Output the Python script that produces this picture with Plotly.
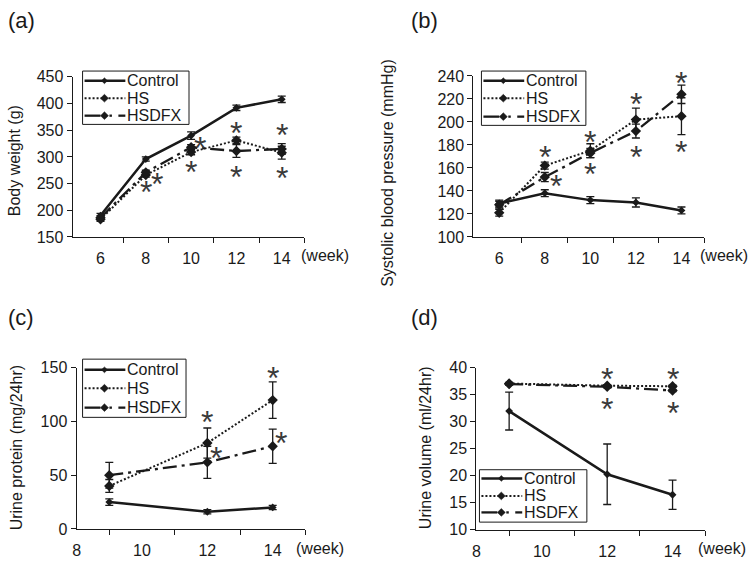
import plotly.graph_objects as go

# ── Data ─────────────────────────────────────────────────────────────────────
weeks_ab = [6, 8, 10, 12, 14]
weeks_cd = [9, 12, 14]

# (a) body weight (g)
bw_control = [190, 296, 340, 392, 408]
bw_control_err = [4, 4, 7, 5, 6]
bw_hs = [183, 266, 309, 331, 308]
bw_hs_err = [4, 4, 5, 6, 12]
bw_hsdfx = [186, 271, 318, 311, 315]
bw_hsdfx_err = [4, 4, 5, 12, 10]

# (b) systolic blood pressure (mmHg)
bp_control = [129, 138, 132, 130, 123]
bp_control_err = [3, 3, 3, 4, 3]
bp_hs = [121, 162, 175, 202, 205]
bp_hs_err = [3, 3, 6, 10, 16]
bp_hsdfx = [128, 152, 173, 192, 224]
bp_hsdfx_err = [3, 4, 4, 6, 8]

# (c) urine protein (mg/24hr)
up_control = [25, 16, 20]
up_control_err = [3, 2, 2]
up_hs = [40, 80, 120]
up_hs_err = [6, 14, 17]
up_hsdfx = [50, 62, 77]
up_hsdfx_err = [12, 15, 16]

# (d) urine volume (ml/24hr)
uv_control = [32.0, 20.3, 16.5]
uv_control_err = [3.5, 5.6, 2.7]
uv_hs = [37.1, 36.7, 36.6]
uv_hs_err = [0.2, 0.2, 0.2]
uv_hsdfx = [37.0, 36.5, 35.8]
uv_hsdfx_err = [0.2, 0.2, 0.2]

# significance asterisks (x in weeks, y in data units)
star_a_x = [8.0, 8.5, 10.0, 10.4, 12.0, 12.0, 14.0, 14.0]
star_a_y = [247, 262, 284, 330, 358, 276, 355, 273]
star_b_x = [8.0, 8.5, 10.0, 10.0, 12.0, 12.0, 14.0, 14.0]
star_b_y = [176, 150, 189, 161, 222, 176, 240, 180]
star_c_x = [12.0, 12.27, 14.0, 14.25]
star_c_y = [106, 73, 147, 87]
star_d_x = [12.0, 12.0, 14.0, 14.0]
star_d_y = [39.2, 33.7, 39.2, 33.0]

W, H = 749, 567
FONT = "Arial, Liberation Sans, sans-serif"
INK = "#1a1a1a"


def px_x(p):
    return p / W


def px_y(p):
    return 1 - p / H


PANELS = [
    dict(weeks=weeks_ab,
         series=[(bw_control, bw_control_err), (bw_hs, bw_hs_err), (bw_hsdfx, bw_hsdfx_err)],
         yrange=[150, 450], dtick=50, xrange=[4.77, 15.0], major=[6, 8, 10, 12, 14],
         minor=[7, 9, 11, 13, 15], xdom=(69, 302), ydom=(236, 71),
         leg=(79, 65, 107, 55, [10, 28, 46]), stars=(star_a_x, star_a_y)),
    dict(weeks=weeks_ab,
         series=[(bp_control, bp_control_err), (bp_hs, bp_hs_err), (bp_hsdfx, bp_hsdfx_err)],
         yrange=[100, 240], dtick=20, xrange=[4.87, 15.0], major=[6, 8, 10, 12, 14],
         minor=[7, 9, 11, 13, 15], xdom=(472, 704), ydom=(236, 70),
         leg=(480, 65, 105, 56, [10, 28, 47]), stars=(star_b_x, star_b_y)),
    dict(weeks=weeks_cd,
         series=[(up_control, up_control_err), (up_hs, up_hs_err), (up_hsdfx, up_hsdfx_err)],
         yrange=[0, 150], dtick=50, xrange=[8, 15], major=[8, 10, 12, 14],
         minor=[9, 11, 13, 15], xdom=(73, 303), ydom=(537, 371),
         leg=(79, 362, 104, 60, [11, 30, 50]), stars=(star_c_x, star_c_y)),
    dict(weeks=weeks_cd,
         series=[(uv_control, uv_control_err), (uv_hs, uv_hs_err), (uv_hsdfx, uv_hsdfx_err)],
         yrange=[10, 40], dtick=5, xrange=[8, 15], major=[8, 10, 12, 14],
         minor=[9, 11, 13, 15], xdom=(475, 705), ydom=(538, 371),
         leg=(478, 476, 108, 54, [9, 27, 44]), stars=(star_d_x, star_d_y)),
]

NAMES = ["Control", "HS", "HSDFX"]
STYLES = [
    dict(dash="solid", width=2.5, msize=6, half=3),
    dict(dash="2px,2px", width=2.0, msize=8, half=4),
    dict(dash="14px,5px,3px,5px", width=2.3, msize=8, half=4),
]

fig = go.Figure()
layout = {}
annotations = []
shapes = []


def seg(x0, x1, y, dash="solid", width=2.0):
    shapes.append(dict(type="line", xref="paper", yref="paper",
                       x0=px_x(x0), x1=px_x(x1), y0=px_y(y), y1=px_y(y),
                       line=dict(color=INK, width=width, dash=dash)))


def diamond(cx, cy, r):
    pts = [(cx, cy - r), (cx + r, cy), (cx, cy + r), (cx - r, cy)]
    path = "M " + " L ".join(f"{px_x(x):.5f},{px_y(y):.5f}" for x, y in pts) + " Z"
    shapes.append(dict(type="path", xref="paper", yref="paper", path=path,
                       fillcolor=INK, line=dict(color=INK, width=0.5)))


def draw_legend(bx, by, w, h, rows):
    shapes.append(dict(type="rect", xref="paper", yref="paper",
                       x0=px_x(bx), x1=px_x(bx + w), y0=px_y(by + h), y1=px_y(by),
                       line=dict(color=INK, width=1), fillcolor="white"))
    for name, st, dy in zip(NAMES, STYLES, rows):
        y = by + dy
        if name == "HSDFX":
            seg(bx + 2, bx + 18, y, width=st["width"])
            seg(bx + 27, bx + 29.5, y, width=st["width"])
            seg(bx + 36, bx + 43, y, width=st["width"])
        else:
            seg(bx + 2, bx + 43, y, dash=st["dash"], width=st["width"])
        diamond(bx + 22, y, st["half"])
        annotations.append(dict(x=px_x(bx + 43), y=px_y(y), xref="paper", yref="paper",
                                text=name, showarrow=False, xanchor="left", yanchor="middle",
                                font=dict(family=FONT, size=16, color=INK)))


for i, p in enumerate(PANELS):
    n = i + 1
    xa = "x" if n == 1 else f"x{n}"
    ya = "y" if n == 1 else f"y{n}"

    for (vals, errs), name, st in zip(p["series"], NAMES, STYLES):
        fig.add_trace(go.Scatter(
            x=p["weeks"], y=vals, name=name, xaxis=xa, yaxis=ya,
            mode="lines+markers", showlegend=False,
            line=dict(color=INK, width=st["width"], dash=st["dash"]),
            marker=dict(symbol="diamond", size=st["msize"], color=INK),
            error_y=dict(type="data", array=errs, color=INK, thickness=1.3, width=4),
        ))

    xkey = "xaxis" if n == 1 else f"xaxis{n}"
    ykey = "yaxis" if n == 1 else f"yaxis{n}"
    # labels sit under even weeks with no mark; the visible tick marks fall on odd weeks
    layout[xkey] = dict(
        domain=[px_x(p["xdom"][0]), px_x(p["xdom"][1])],
        range=p["xrange"], anchor=ya,
        tickmode="array", tickvals=p["major"],
        ticks="outside", ticklen=7, tickcolor="rgba(0,0,0,0)",
        minor=dict(tickmode="array", tickvals=p["minor"], ticks="outside",
                   ticklen=5, tickcolor=INK, tickwidth=1),
        showline=True, linecolor=INK, linewidth=1.2,
        showgrid=False, zeroline=False,
        tickfont=dict(family=FONT, size=16, color=INK),
    )
    layout[ykey] = dict(
        domain=[px_y(p["ydom"][0]), px_y(p["ydom"][1])],
        range=p["yrange"], anchor=xa, dtick=p["dtick"],
        ticks="outside", ticklen=5, tickcolor=INK,
        showline=True, linecolor=INK, linewidth=1.2,
        showgrid=False, zeroline=False,
        tickfont=dict(family=FONT, size=16, color=INK),
    )

    draw_legend(*p["leg"])

    # the asterisk glyph sits high in its line box, so pull it down onto the point
    sx, sy = p["stars"]
    for x, y in zip(sx, sy):
        annotations.append(dict(
            x=x, y=y, xref=xa, yref=ya, text="*", showarrow=False,
            font=dict(family=FONT, size=32, color="#3a3a3a"),
            xanchor="center", yanchor="middle", yshift=-7,
        ))

# panel letters
for txt, x, y in [("(a)", 2, 13), ("(b)", 407, 13), ("(c)", 2, 319), ("(d)", 407, 319)]:
    annotations.append(dict(x=px_x(x), y=px_y(y), xref="paper", yref="paper", text=txt,
                            showarrow=False, xanchor="left", yanchor="middle",
                            font=dict(family=FONT, size=22, color=INK)))

# y axis titles
for txt, x, y in [("Body weight (g)", 10, 157), ("Systolic blood pressure (mmHg)", 386, 170),
                  ("Urine protein (mg/24hr)", 12, 453), ("Urine volume (ml/24hr)", 424, 453)]:
    annotations.append(dict(x=px_x(x), y=px_y(y), xref="paper", yref="paper", text=txt,
                            showarrow=False, textangle=-90, xanchor="center", yanchor="middle",
                            font=dict(family=FONT, size=16, color=INK)))

# (week) labels
for x, y in [(297, 255), (698, 255), (292, 557), (696, 557)]:
    annotations.append(dict(x=px_x(x), y=px_y(y), xref="paper", yref="paper", text="(week)",
                            showarrow=False, xanchor="left", yanchor="middle",
                            font=dict(family=FONT, size=16, color=INK)))

fig.update_layout(
    width=W, height=H,
    margin=dict(l=0, r=0, t=0, b=0),
    paper_bgcolor="white", plot_bgcolor="white",
    annotations=annotations, shapes=shapes,
    **layout,
)

# page body has a default 8px margin; drop it so the figure sits at the corner
fig.write_html("out.html", config={"displayModeBar": False},
               post_script="document.body.style.margin='0px';")
